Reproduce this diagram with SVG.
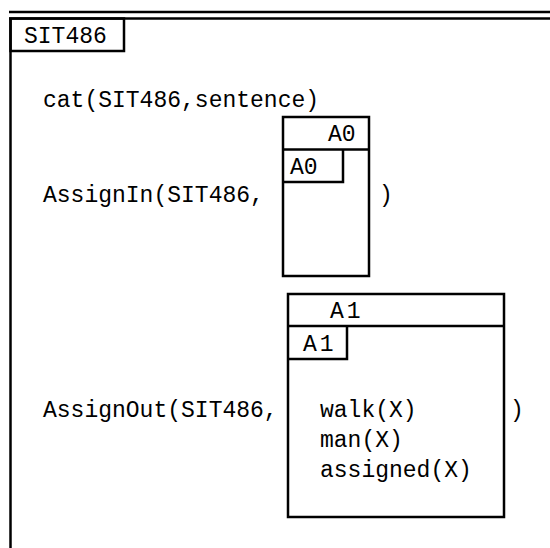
<svg xmlns="http://www.w3.org/2000/svg" width="550" height="548" viewBox="0 0 550 548">
<style>
.t{font-family:"Liberation Mono","DejaVu Sans Mono",monospace;font-size:23px;fill:#000}
.b{fill:none;stroke:#000;stroke-width:2.5}
.l{stroke:#000;stroke-width:2.5;fill:none}
</style>
<rect width="550" height="548" fill="#fff"/>
<g id="frame">
<line class="l" x1="9" y1="12" x2="550" y2="12" stroke-width="3"/>
<line class="l" x1="9" y1="18.5" x2="550" y2="18.5"/>
<line class="l" x1="10.5" y1="18" x2="10.5" y2="548"/>
<rect class="b" x="10.5" y="18.5" width="113.5" height="32.5"/>
<text class="t" x="24" y="43">SIT486</text>
</g>
<g id="cat">
<text class="t" x="43" y="107">cat(SIT486,sentence)</text>
</g>
<g id="assignin">
<text class="t" x="43" y="202">AssignIn(SIT486,</text>
<text class="t" x="379" y="202">)</text>
</g>
<g id="A0">
<rect class="b" x="283" y="117" width="86" height="159"/>
<line class="l" x1="283" y1="149.5" x2="369" y2="149.5"/>
<polyline class="l" points="283,182 343,182 343,149.5"/>
<text class="t" x="328" y="141">A0</text>
<text class="t" x="290" y="174">A0</text>
</g>
<g id="assignout">
<text class="t" x="43" y="417">AssignOut(SIT486,</text>
<text class="t" x="510" y="417">)</text>
</g>
<g id="A1">
<rect class="b" x="288" y="294" width="216" height="223"/>
<line class="l" x1="288" y1="326" x2="504" y2="326"/>
<polyline class="l" points="288,359 347,359 347,326"/>
<text class="t" x="330" y="318" letter-spacing="3">A1</text>
<text class="t" x="303" y="351" letter-spacing="3">A1</text>
<text class="t" x="320" y="417">walk(X)</text>
<text class="t" x="320" y="447">man(X)</text>
<text class="t" x="320" y="477">assigned(X)</text>
</g>
<g id="connectors"></g>
</svg>
